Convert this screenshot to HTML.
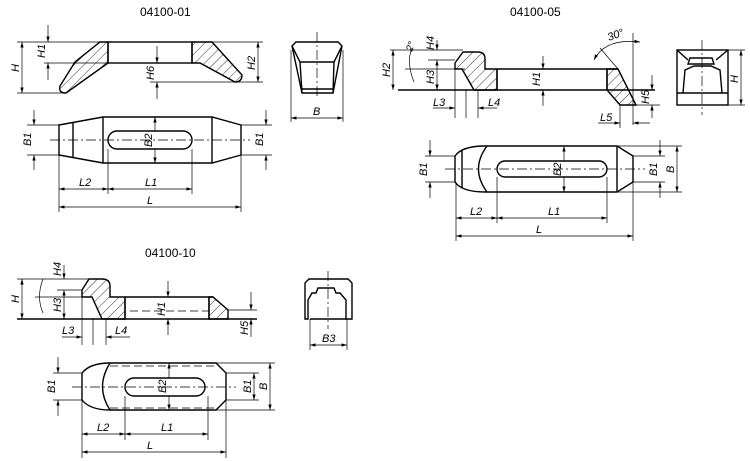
<!DOCTYPE html>
<html><head><style>
html,body{margin:0;padding:0;background:#fff;}
svg{display:block}
text{font-family:"Liberation Sans",sans-serif;font-size:11px;fill:#000}
.d{font-style:italic;font-size:11px}
.t{font-size:12px}
</style></head><body>
<svg width="750" height="461" viewBox="0 0 750 461" xmlns="http://www.w3.org/2000/svg">
<defs>
<marker id="a" viewBox="0 0 10 6" refX="10" refY="3" markerWidth="8" markerHeight="5" orient="auto-start-reverse"><path d="M0,0L10,3L0,6z" fill="#000"/></marker>
<pattern id="h" width="7" height="7" patternUnits="userSpaceOnUse" patternTransform="rotate(45)"><line x1="0" y1="0" x2="0" y2="7" stroke="#000" stroke-width="0.8"/></pattern>
</defs>
<g fill="none" stroke="#000" stroke-width="1.4">
<!-- ===== 04100-01 side ===== -->
<rect x="108" y="42" width="84" height="21"/>
<path d="M108,42L100,42L75,62L60,86Q58,93 66,93L108,63Z" fill="url(#h)"/>
<path d="M192,42L212,42L242,75Q242,82 235,82L200,63L192,63Z" fill="url(#h)"/>
<!-- top view -->
<path d="M59,125L103,117L212,117L241,125L241,155L212,163L103,163L59,155Z"/>
<line x1="73" y1="123" x2="73" y2="157"/><line x1="103" y1="117" x2="103" y2="163"/><line x1="212" y1="117" x2="212" y2="163"/>
<rect x="108" y="131" width="84" height="18" rx="9"/>
<!-- end view -->
<path d="M296,42L338,42L342,46L333,93L302,93L292,46Z"/>
<path d="M292,46L300,62L302,93M342,46L334,62L333,93M300,62L334,62M302,89L333,89"/>
</g>
<g fill="none" stroke="#000" stroke-width="0.7">
<line x1="17" y1="42" x2="263" y2="42"/><line x1="17" y1="93" x2="66" y2="93"/>
<line x1="44" y1="63" x2="108" y2="63"/><line x1="150" y1="82" x2="263" y2="82"/>
<line x1="22" y1="42" x2="22" y2="93" marker-start="url(#a)" marker-end="url(#a)"/>
<line x1="48" y1="25" x2="48" y2="42" marker-end="url(#a)"/><line x1="48" y1="80" x2="48" y2="63" marker-end="url(#a)"/>
<line x1="157" y1="46" x2="157" y2="63" marker-end="url(#a)"/><line x1="157" y1="99" x2="157" y2="82" marker-end="url(#a)"/>
<line x1="258" y1="42" x2="258" y2="82" marker-start="url(#a)" marker-end="url(#a)"/>
<line x1="50" y1="140" x2="250" y2="140" stroke-dasharray="10,3,2,3"/>
<line x1="27" y1="125" x2="59" y2="125"/><line x1="27" y1="155" x2="59" y2="155"/>
<line x1="34" y1="110" x2="34" y2="125" marker-end="url(#a)"/><line x1="34" y1="170" x2="34" y2="155" marker-end="url(#a)"/>
<line x1="241" y1="125" x2="272" y2="125"/><line x1="241" y1="155" x2="272" y2="155"/>
<line x1="266" y1="110" x2="266" y2="125" marker-end="url(#a)"/><line x1="266" y1="170" x2="266" y2="155" marker-end="url(#a)"/>
<line x1="155" y1="117" x2="155" y2="131" marker-start="url(#a)"/><line x1="155" y1="149" x2="155" y2="163" marker-end="url(#a)"/>
<line x1="59" y1="155" x2="59" y2="212"/><line x1="241" y1="155" x2="241" y2="212"/>
<line x1="108" y1="149" x2="108" y2="194"/><line x1="192" y1="149" x2="192" y2="194"/>
<line x1="59" y1="189" x2="108" y2="189" marker-start="url(#a)" marker-end="url(#a)"/>
<line x1="108" y1="189" x2="192" y2="189" marker-start="url(#a)" marker-end="url(#a)"/>
<line x1="59" y1="207" x2="241" y2="207" marker-start="url(#a)" marker-end="url(#a)"/>
<line x1="317" y1="32" x2="317" y2="99" stroke-dasharray="10,3,2,3"/>
<line x1="291" y1="50" x2="291" y2="122"/><line x1="343" y1="50" x2="343" y2="122"/>
<line x1="291" y1="118" x2="343" y2="118" marker-start="url(#a)" marker-end="url(#a)"/>
</g>
<text class="t" x="140" y="16">04100-01</text>
<text class="d" transform="translate(19,72) rotate(-90)">H</text>
<text class="d" transform="translate(45,58) rotate(-90)">H1</text>
<text class="d" transform="translate(154,80) rotate(-90)">H6</text>
<text class="d" transform="translate(255,70) rotate(-90)">H2</text>
<text class="d" transform="translate(31,146) rotate(-90)">B1</text>
<text class="d" transform="translate(152,147) rotate(-90)">B2</text>
<text class="d" transform="translate(263,146) rotate(-90)">B1</text>
<text class="d" x="79" y="186">L2</text><text class="d" x="145" y="186">L1</text><text class="d" x="147" y="204">L</text>
<text class="d" x="313" y="115">B</text>

<!-- ===== 04100-05 ===== -->
<g fill="none" stroke="#000" stroke-width="1.4">
<path d="M455,63L463,52L478,52Q485,52 485,59L485,69L497,69L497,90L474,90L462,69L455,69Z" fill="url(#h)"/>
<line x1="398" y1="90" x2="655" y2="90"/><line x1="497" y1="69" x2="618" y2="69"/>
<path d="M607,69L618,69L636,105L620,105L607,90Z" fill="url(#h)"/>
<line x1="497" y1="69" x2="497" y2="90"/><line x1="607" y1="69" x2="607" y2="90"/>
<!-- top view -->
<path d="M455,182L455,156Q462,146 485,146L617,146L633,156L633,182L617,192L485,192Q462,192 455,182Z"/>
<path d="M462,150L462,188M487,146Q470,169 487,192M617,146L617,192"/>
<rect x="497" y="161" width="110" height="16" rx="8"/>
<!-- end view -->
<rect x="677" y="50" width="51" height="55"/>
<path d="M677,93L728,93M683,93L685,70L694,66L711,66L720,70L722,93M690,58L712,58L714,64L688,64ZM677,50L688,60M728,50L716,60"/>
</g>
<g fill="none" stroke="#000" stroke-width="0.7">
<line x1="390" y1="50" x2="463" y2="50"/><line x1="405" y1="69" x2="465" y2="69"/><line x1="428" y1="60" x2="455" y2="60"/>
<line x1="393" y1="50" x2="393" y2="90" marker-start="url(#a)" marker-end="url(#a)"/>
<line x1="437" y1="40" x2="437" y2="50" marker-end="url(#a)"/><line x1="437" y1="90" x2="437" y2="60" marker-start="url(#a)" marker-end="url(#a)"/>
<path d="M412,48Q406,62 414,82"/>
<line x1="455" y1="63" x2="455" y2="118"/><line x1="466" y1="90" x2="466" y2="118"/><line x1="478" y1="90" x2="478" y2="118"/>
<line x1="433" y1="108" x2="455" y2="108" marker-end="url(#a)"/><line x1="497" y1="108" x2="478" y2="108" marker-end="url(#a)"/>
<line x1="543" y1="56" x2="543" y2="69" marker-end="url(#a)"/><line x1="543" y1="106" x2="543" y2="90" marker-end="url(#a)"/>
<line x1="633" y1="33" x2="633" y2="125"/>
<path d="M594,60Q605,38 640,42" marker-start="url(#a)" marker-end="url(#a)"/>
<line x1="600" y1="48" x2="618" y2="69"/>
<line x1="636" y1="105" x2="660" y2="105"/>
<line x1="652" y1="75" x2="652" y2="90" marker-end="url(#a)"/><line x1="652" y1="118" x2="652" y2="105" marker-end="url(#a)"/>
<line x1="620" y1="105" x2="620" y2="128"/>
<line x1="598" y1="123" x2="620" y2="123" marker-end="url(#a)"/><line x1="650" y1="123" x2="633" y2="123" marker-end="url(#a)"/>
<line x1="702" y1="40" x2="702" y2="115" stroke-dasharray="10,3,2,3"/>
<line x1="728" y1="50" x2="745" y2="50"/><line x1="728" y1="105" x2="745" y2="105"/>
<line x1="741" y1="50" x2="741" y2="105" marker-start="url(#a)" marker-end="url(#a)"/>
<line x1="445" y1="169" x2="645" y2="169" stroke-dasharray="10,3,2,3"/>
<line x1="425" y1="156" x2="455" y2="156"/><line x1="425" y1="182" x2="455" y2="182"/>
<line x1="430" y1="140" x2="430" y2="156" marker-end="url(#a)"/><line x1="430" y1="198" x2="430" y2="182" marker-end="url(#a)"/>
<line x1="564" y1="146" x2="564" y2="161" marker-start="url(#a)"/><line x1="564" y1="177" x2="564" y2="192" marker-end="url(#a)"/>
<line x1="633" y1="156" x2="665" y2="156"/><line x1="633" y1="182" x2="665" y2="182"/>
<line x1="660" y1="140" x2="660" y2="156" marker-end="url(#a)"/><line x1="660" y1="198" x2="660" y2="182" marker-end="url(#a)"/>
<line x1="617" y1="146" x2="682" y2="146"/><line x1="617" y1="192" x2="682" y2="192"/>
<line x1="677" y1="146" x2="677" y2="192" marker-start="url(#a)" marker-end="url(#a)"/>
<line x1="456" y1="182" x2="456" y2="241"/><line x1="633" y1="182" x2="633" y2="241"/>
<line x1="497" y1="177" x2="497" y2="223"/><line x1="607" y1="177" x2="607" y2="223"/>
<line x1="456" y1="218" x2="497" y2="218" marker-start="url(#a)" marker-end="url(#a)"/>
<line x1="497" y1="218" x2="607" y2="218" marker-start="url(#a)" marker-end="url(#a)"/>
<line x1="456" y1="236" x2="633" y2="236" marker-start="url(#a)" marker-end="url(#a)"/>
</g>
<text class="t" x="510" y="16">04100-05</text>
<text class="d" transform="translate(390,77) rotate(-90)">H2</text>
<text class="d" transform="translate(434,50) rotate(-90)">H4</text>
<text class="d" transform="translate(434,84) rotate(-90)">H3</text>
<text class="d" transform="translate(412,52) rotate(-70)" style="font-size:10px">2°</text>
<text class="d" x="433" y="106">L3</text><text class="d" x="488" y="106">L4</text>
<text class="d" transform="translate(540,86) rotate(-90)">H1</text>
<text class="d" x="609" y="41" transform="rotate(-20,609,41)">30°</text>
<text class="d" transform="translate(649,104) rotate(-90)">H5</text>
<text class="d" x="600" y="121">L5</text>
<text class="d" transform="translate(738,83) rotate(-90)">H</text>
<text class="d" transform="translate(427,176) rotate(-90)">B1</text>
<text class="d" transform="translate(561,176) rotate(-90)">B2</text>
<text class="d" transform="translate(657,176) rotate(-90)">B1</text>
<text class="d" transform="translate(674,173) rotate(-90)">B</text>
<text class="d" x="470" y="215">L2</text><text class="d" x="548" y="215">L1</text><text class="d" x="536" y="233">L</text>

<!-- ===== 04100-10 ===== -->
<g fill="none" stroke="#000" stroke-width="1.4">
<path d="M82,290L89,279L102,279Q110,279 110,286L110,297L125,297L125,319L102,319L92,297L82,297Z" fill="url(#h)"/>
<line x1="17" y1="319" x2="257" y2="319"/><line x1="125" y1="297" x2="213" y2="297"/>
<path d="M209,297L213,297L228,310L228,319L209,319Z" fill="url(#h)"/>
<line x1="125" y1="297" x2="125" y2="319"/><line x1="209" y1="297" x2="209" y2="319"/>
<path d="M82,400L82,373Q90,363 110,363L216,363L226,373L226,400L216,410L110,410Q90,410 82,400Z"/>
<path d="M110,363Q95,387 110,410"/>
<rect x="125" y="378" width="80" height="18" rx="9"/>
<path d="M305,319L305,283L309,279L348,279L352,283L352,319L346,319L346,300L340,293L336,293L334,288L318,288L316,293L312,293L308,300L308,319Z"/>
<line x1="310" y1="319" x2="346" y2="319"/>
</g>
<g fill="none" stroke="#000" stroke-width="0.7">
<line x1="17" y1="279" x2="89" y2="279"/><line x1="35" y1="297" x2="82" y2="297"/><line x1="57" y1="290" x2="82" y2="290"/>
<line x1="22" y1="279" x2="22" y2="319" marker-start="url(#a)" marker-end="url(#a)"/>
<line x1="64" y1="265" x2="64" y2="279" marker-end="url(#a)"/><line x1="64" y1="319" x2="64" y2="290" marker-start="url(#a)" marker-end="url(#a)"/>
<path d="M43,279Q36,297 43,313"/>
<line x1="130" y1="311" x2="209" y2="311" stroke-dasharray="8,4"/>
<line x1="82" y1="297" x2="82" y2="345"/><line x1="93" y1="319" x2="93" y2="345"/><line x1="106" y1="319" x2="106" y2="345"/>
<line x1="62" y1="337" x2="82" y2="337" marker-end="url(#a)"/><line x1="130" y1="337" x2="106" y2="337" marker-end="url(#a)"/>
<line x1="168" y1="281" x2="168" y2="297" marker-end="url(#a)"/><line x1="168" y1="335" x2="168" y2="319" marker-end="url(#a)"/>
<line x1="228" y1="310" x2="257" y2="310"/>
<line x1="251" y1="292" x2="251" y2="310" marker-end="url(#a)"/><line x1="251" y1="337" x2="251" y2="319" marker-end="url(#a)"/>
<line x1="328" y1="271" x2="328" y2="329" stroke-dasharray="10,3,2,3"/>
<line x1="310" y1="319" x2="310" y2="350"/><line x1="347" y1="319" x2="347" y2="350"/>
<line x1="310" y1="345" x2="347" y2="345" marker-start="url(#a)" marker-end="url(#a)"/>
<line x1="72" y1="387" x2="236" y2="387" stroke-dasharray="10,3,2,3"/>
<line x1="110" y1="366" x2="216" y2="366" stroke-dasharray="8,4"/><line x1="110" y1="408" x2="216" y2="408" stroke-dasharray="8,4"/>
<line x1="53" y1="373" x2="82" y2="373"/><line x1="53" y1="400" x2="82" y2="400"/>
<line x1="58" y1="357" x2="58" y2="373" marker-end="url(#a)"/><line x1="58" y1="416" x2="58" y2="400" marker-end="url(#a)"/>
<line x1="169" y1="363" x2="169" y2="378" marker-start="url(#a)"/><line x1="169" y1="396" x2="169" y2="410" marker-end="url(#a)"/>
<line x1="226" y1="373" x2="259" y2="373"/><line x1="226" y1="400" x2="259" y2="400"/>
<line x1="254" y1="373" x2="254" y2="400" marker-start="url(#a)" marker-end="url(#a)"/>
<line x1="216" y1="363" x2="275" y2="363"/><line x1="216" y1="410" x2="275" y2="410"/>
<line x1="270" y1="363" x2="270" y2="410" marker-start="url(#a)" marker-end="url(#a)"/>
<line x1="82" y1="400" x2="82" y2="458"/><line x1="226" y1="400" x2="226" y2="458"/>
<line x1="125" y1="396" x2="125" y2="440"/><line x1="208" y1="396" x2="208" y2="440"/>
<line x1="82" y1="434" x2="125" y2="434" marker-start="url(#a)" marker-end="url(#a)"/>
<line x1="125" y1="434" x2="208" y2="434" marker-start="url(#a)" marker-end="url(#a)"/>
<line x1="82" y1="452" x2="226" y2="452" marker-start="url(#a)" marker-end="url(#a)"/>
</g>
<text class="t" x="145" y="257">04100-10</text>
<text class="d" transform="translate(19,303) rotate(-90)">H</text>
<text class="d" transform="translate(61,276) rotate(-90)">H4</text>
<text class="d" transform="translate(61,312) rotate(-90)">H3</text>
<text class="d" x="62" y="334">L3</text><text class="d" x="115" y="334">L4</text>
<text class="d" transform="translate(165,316) rotate(-90)">H1</text>
<text class="d" transform="translate(248,335) rotate(-90)">H5</text>
<text class="d" x="322" y="342">B3</text>
<text class="d" transform="translate(55,393) rotate(-90)">B1</text>
<text class="d" transform="translate(166,393) rotate(-90)">B2</text>
<text class="d" transform="translate(251,393) rotate(-90)">B1</text>
<text class="d" transform="translate(267,390) rotate(-90)">B</text>
<text class="d" x="97" y="431">L2</text><text class="d" x="161" y="431">L1</text><text class="d" x="147" y="449">L</text>
</svg>
</body></html>
